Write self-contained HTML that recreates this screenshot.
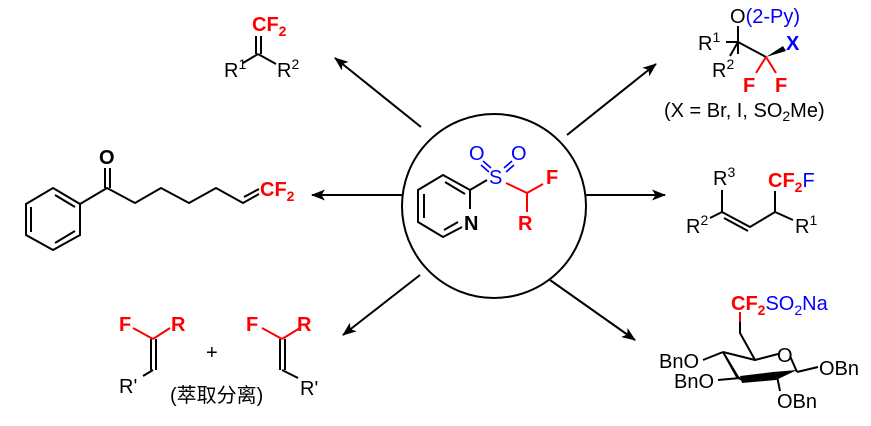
<!DOCTYPE html>
<html><head><meta charset="utf-8"><style>
html,body{margin:0;padding:0;background:#fff}
svg{display:block}
text{font-family:"Liberation Sans","Noto Sans CJK SC",sans-serif;font-size:20px}
.r{fill:#f00;font-weight:bold}.b{fill:#00f}.bb{fill:#00f;font-weight:bold}
.s{font-size:14px}
</style></head><body>
<svg width="871" height="426" viewBox="0 0 871 426" xmlns="http://www.w3.org/2000/svg">
<defs><marker id="a" markerWidth="14" markerHeight="11" refX="13" refY="5.5" orient="auto" markerUnits="userSpaceOnUse"><path d="M0,0 L14,5.5 L0,11 L3.5,5.5 Z" fill="#000"/></marker></defs>
<g stroke="#000" stroke-width="2" fill="none">
<circle cx="494" cy="206" r="92"/>
<line x1="421" y1="127" x2="335" y2="58" marker-end="url(#a)"/>
<line x1="567" y1="135" x2="656" y2="64" marker-end="url(#a)"/>
<line x1="402" y1="195" x2="312" y2="195" marker-end="url(#a)"/>
<line x1="586" y1="195" x2="665" y2="195" marker-end="url(#a)"/>
<line x1="420" y1="275" x2="343" y2="335" marker-end="url(#a)"/>
<line x1="550" y1="280" x2="635" y2="340" marker-end="url(#a)"/>
<!-- center pyridine -->
<polyline points="462,227 443,237 418,222 418,190 443,175 470,190 470,209"/>
<line x1="424" y1="194" x2="424" y2="218"/>
<line x1="445" y1="182" x2="465" y2="194"/>
<line x1="444" y1="230" x2="458" y2="222"/>
<line x1="470" y1="190" x2="487" y2="180"/>
<!-- top-left -->
<line x1="256" y1="36" x2="256" y2="54"/><line x1="261" y1="36" x2="261" y2="54"/>
<line x1="258" y1="54" x2="243" y2="63"/><line x1="258" y1="54" x2="276" y2="64"/>
<!-- ketone -->
<polygon points="53,188 80,204 80,235 53,250 26,235 26,204"/>
<line x1="31" y1="207" x2="31" y2="232"/><line x1="55" y1="195" x2="75" y2="207"/><line x1="55" y1="243" x2="75" y2="231"/>
<polyline points="80,204 107,188 135,203 161,188 189,203 216,188 243,203 259,194"/>
<line x1="105" y1="168" x2="105" y2="188"/><line x1="110" y1="168" x2="110" y2="188"/>
<line x1="244" y1="197" x2="259" y2="189"/>
<!-- top-right -->
<line x1="738" y1="26" x2="738" y2="54"/><line x1="726" y1="42" x2="738" y2="42"/><line x1="738" y1="42" x2="730" y2="56"/>
<line x1="738" y1="42" x2="766" y2="57"/>
<!-- right -->
<line x1="722" y1="190" x2="722" y2="212"/><line x1="722" y1="212" x2="710" y2="218"/>
<polyline points="722,212 750,227 775,212 793,220"/><line x1="724" y1="218" x2="748" y2="231"/>
<line x1="775" y1="212" x2="775" y2="191"/>
<!-- bottom-left -->
<line x1="151" y1="339" x2="151" y2="370"/><line x1="156" y1="339" x2="156" y2="370"/>
<line x1="153" y1="370" x2="143" y2="376"/>
<line x1="280" y1="339" x2="280" y2="370"/><line x1="285" y1="339" x2="285" y2="370"/>
<line x1="282" y1="370" x2="298" y2="378"/>
<!-- sugar -->
<polyline points="740,312 740,333 755,360 778,354"/>
<line x1="703" y1="360" x2="723" y2="352"/><line x1="723" y1="352" x2="755" y2="360"/>
<line x1="718" y1="380" x2="740" y2="378"/>
<line x1="790" y1="356" x2="797" y2="372"/><line x1="797" y1="372" x2="818" y2="367"/>
<line x1="777" y1="376" x2="780" y2="391"/>
</g>
<g stroke="#f00" stroke-width="2"><line x1="506" y1="183" x2="527" y2="193"/><line x1="527" y1="193" x2="543" y2="184"/><line x1="527" y1="193" x2="527" y2="212"/>
<line x1="766" y1="57" x2="756" y2="73"/><line x1="766" y1="57" x2="776" y2="73"/>
<line x1="153" y1="339" x2="133" y2="328"/><line x1="153" y1="339" x2="170" y2="328"/>
<line x1="282" y1="339" x2="262" y2="328"/><line x1="282" y1="339" x2="300" y2="328"/>
<line x1="740" y1="312" x2="740" y2="322"/></g>
<g stroke="#00f" stroke-width="1.6"><line x1="483" y1="161" x2="491" y2="168"/><line x1="481" y1="165" x2="489" y2="172"/><line x1="504" y1="168" x2="512" y2="161"/><line x1="506" y1="172" x2="514" y2="165"/></g>
<polygon points="766,57 783,46 786,51" fill="#000"/>
<polygon points="723,352 738,377 742,380 737,377" fill="#000" stroke="#000" stroke-width="2"/>
<polygon points="740,376 773,372 797,370 776,380 742,383" fill="#000"/>
<text x="469" y="160" class="b">O</text><text x="511" y="160" class="b">O</text><text x="489" y="184" class="b">S</text>
<text x="464" y="230" font-weight="bold">N</text><text x="546" y="184" class="r">F</text><text x="518" y="230" class="r">R</text>
<text x="252" y="31" class="r">CF<tspan class="s" dy="5">2</tspan></text>
<text x="224" y="77">R<tspan class="s" dy="-8">1</tspan></text><text x="277" y="77">R<tspan class="s" dy="-8">2</tspan></text>
<text x="99" y="164" font-weight="bold">O</text><text x="260" y="196" class="r">CF<tspan class="s" dy="5">2</tspan></text>
<text x="730" y="23">O<tspan class="b">(2-Py)</tspan></text>
<text x="698" y="50">R<tspan class="s" dy="-8">1</tspan></text><text x="712" y="77">R<tspan class="s" dy="-8">2</tspan></text>
<text x="786" y="50" class="bb">X</text><text x="743" y="92" class="r">F</text><text x="775" y="92" class="r">F</text>
<text x="664" y="117">(X = Br, I, SO<tspan class="s" dy="4">2</tspan><tspan dy="-4">Me)</tspan></text>
<text x="713" y="185">R<tspan class="s" dy="-8">3</tspan></text><text x="768" y="187" class="r">CF<tspan class="s" dy="5">2</tspan><tspan dy="-5" class="b" font-weight="normal">F</tspan></text>
<text x="686" y="233">R<tspan class="s" dy="-8">2</tspan></text><text x="795" y="233">R<tspan class="s" dy="-8">1</tspan></text>
<text x="119" y="331" class="r">F</text><text x="171" y="331" class="r">R</text><text x="119" y="393">R'</text>
<text x="206" y="359">+</text><text x="170" y="402">(萃取分离)</text>
<text x="246" y="331" class="r">F</text><text x="297" y="331" class="r">R</text><text x="300" y="395">R'</text>
<text x="731" y="310" class="r">CF<tspan class="s" dy="5">2</tspan><tspan dy="-5" class="b" font-weight="normal">SO<tspan class="s" dy="5">2</tspan><tspan dy="-5">Na</tspan></tspan></text>
<text x="659" y="368">BnO</text><text x="674" y="388">BnO</text><text x="777" y="362">O</text>
<text x="819" y="375">OBn</text><text x="777" y="408">OBn</text>
</svg>
</body></html>
